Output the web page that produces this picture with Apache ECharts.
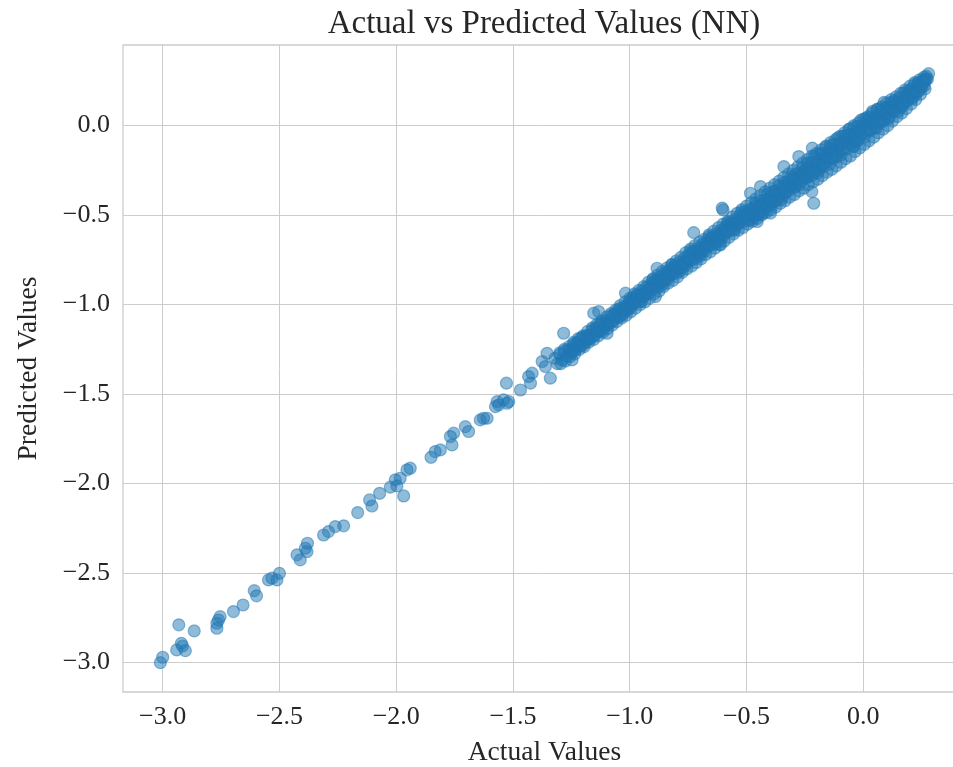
<!DOCTYPE html>
<html>
<head>
<meta charset="utf-8">
<script src="https://cdn.jsdelivr.net/npm/echarts@6/dist/echarts.min.js"></script>
<style>
html,body{margin:0;padding:0;background:#fff;}
#chart{width:953px;height:767px;}
</style>
</head>
<body>
<div id="chart"></div>
<script>
var chartTitle = 'Actual vs Predicted Values (NN)';
var xAxisName = 'Actual Values';
var yAxisName = 'Predicted Values';

// [actual, predicted]
var tailPoints = [
  [-3.01,-3.00],[-3.00,-2.97],[-2.931,-2.789],[-2.865,-2.823],[-2.94,-2.929],[-2.915,-2.907],
  [-2.903,-2.933],[-2.92,-2.892],[-2.768,-2.808],[-2.761,-2.762],[-2.754,-2.743],[-2.768,-2.78],
  [-2.697,-2.715],[-2.656,-2.678],[-2.608,-2.598],[-2.598,-2.627],[-2.547,-2.538],[-2.532,-2.528],
  [-2.511,-2.538],[-2.50,-2.501],[-2.425,-2.398],[-2.411,-2.426],[-2.382,-2.38],[-2.38,-2.333],
  [-2.389,-2.361],[-2.311,-2.287],[-2.261,-2.24],[-2.225,-2.236],[-2.29,-2.268],[-2.165,-2.162],
  [-2.114,-2.091],[-2.104,-2.125],[-2.071,-2.054],[-2.025,-2.02],[-2.004,-1.979],[-1.983,-1.97],
  [-1.968,-2.069],[-1.94,-1.914],[-1.954,-1.923],[-1.997,-2.013],[-1.851,-1.853],[-1.833,-1.821],
  [-1.811,-1.812],[-1.768,-1.737],[-1.761,-1.784],[-1.754,-1.718],[-1.704,-1.682],[-1.69,-1.709],
  [-1.64,-1.644],[-1.611,-1.635],[-1.626,-1.635],[-1.561,-1.56],[-1.525,-1.551],[-1.568,-1.542],
  [-1.54,-1.532],[-1.518,-1.542],[-1.575,-1.57],[-1.528,-1.439],[-1.468,-1.477],[-1.433,-1.402],
  [-1.418,-1.383],[-1.425,-1.439],[-1.375,-1.318],[-1.354,-1.272],[-1.34,-1.411],[-1.361,-1.346],
  [-1.283,-1.16],[-1.247,-1.309]
];

var bandPoints = [
  [-1.32,-1.30],[-1.31,-1.33],[-1.30,-1.28],[-1.29,-1.31],[-1.28,-1.26],[-1.27,-1.29],[-1.26,-1.25],
  [-1.25,-1.27],[-1.24,-1.22],[-1.23,-1.25],[-1.22,-1.21],[-1.21,-1.23],[-1.20,-1.18],[-1.19,-1.21],
  [-1.18,-1.17],[-1.17,-1.19],[-1.16,-1.14],[-1.15,-1.17],[-1.14,-1.13],[-1.13,-1.15],[-1.12,-1.10],
  [-1.11,-1.13],[-1.10,-1.09],[-1.09,-1.11],[-1.08,-1.06],[-1.07,-1.09],[-1.06,-1.05],[-1.05,-1.07],
  [-1.04,-1.02],[-1.03,-1.05],[-1.02,-1.01],[-1.01,-1.03],[-1.00,-0.98],[-0.995,-1.01],
  [-0.99,-0.965],[-0.985,-0.995],[-0.98,-0.975],[-0.97,-0.945],[-0.965,-0.975],[-0.96,-0.955],
  [-0.95,-0.925],[-0.945,-0.955],[-0.94,-0.935],[-0.93,-0.905],[-0.925,-0.935],[-0.92,-0.915],
  [-0.91,-0.885],[-0.905,-0.915],[-0.90,-0.895],[-0.89,-0.865],[-0.885,-0.895],[-0.88,-0.875],
  [-0.87,-0.845],[-0.865,-0.875],[-0.86,-0.855],[-0.85,-0.825],[-0.845,-0.855],[-0.84,-0.835],
  [-0.83,-0.805],[-0.825,-0.835],[-0.82,-0.815],[-0.81,-0.785],[-0.805,-0.815],[-0.80,-0.795],
  [-0.79,-0.765],[-0.785,-0.795],[-0.78,-0.775],[-0.77,-0.745],[-0.765,-0.775],[-0.76,-0.755],
  [-0.75,-0.725],[-0.745,-0.755],[-0.74,-0.735],[-0.73,-0.705],[-0.725,-0.735],[-0.72,-0.715],
  [-0.71,-0.685],[-0.705,-0.715],[-0.70,-0.695],[-0.69,-0.665],[-0.685,-0.695],[-0.68,-0.675],
  [-0.67,-0.645],[-0.665,-0.675],[-0.66,-0.655],[-0.65,-0.625],[-0.645,-0.655],[-0.64,-0.635],
  [-0.63,-0.605],[-0.625,-0.635],[-0.62,-0.615],[-0.61,-0.585],[-0.605,-0.615],[-0.60,-0.595],
  [-0.59,-0.565],[-0.585,-0.595],[-0.58,-0.575],[-0.57,-0.545],[-0.565,-0.575],[-0.56,-0.555],
  [-0.55,-0.525],[-0.545,-0.555],[-0.54,-0.535],[-0.53,-0.505],[-0.525,-0.535],[-0.52,-0.515],
  [-0.51,-0.485],[-0.505,-0.515],[-0.50,-0.495],
  [-0.95,-0.98],[-0.90,-0.86],[-0.86,-0.89],[-0.82,-0.78],[-0.78,-0.81],[-0.74,-0.70],
  [-0.70,-0.73],[-0.66,-0.62],[-0.62,-0.65],[-0.58,-0.54],[-0.55,-0.58],[-0.52,-0.48],
  [-0.49,-0.47],[-0.485,-0.525],[-0.48,-0.49],[-0.475,-0.465],[-0.47,-0.515],[-0.465,-0.485],
  [-0.46,-0.435],[-0.455,-0.485],[-0.45,-0.45],[-0.445,-0.495],[-0.44,-0.42],[-0.435,-0.475],
  [-0.43,-0.44],[-0.425,-0.415],[-0.42,-0.465],[-0.415,-0.435],[-0.41,-0.385],[-0.405,-0.435],
  [-0.40,-0.40],[-0.395,-0.445],[-0.39,-0.37],[-0.385,-0.425],[-0.38,-0.39],[-0.375,-0.365],
  [-0.37,-0.415],[-0.365,-0.385],[-0.36,-0.335],[-0.355,-0.385],[-0.35,-0.35],[-0.345,-0.395],
  [-0.34,-0.32],[-0.335,-0.375],[-0.33,-0.34],[-0.325,-0.315],[-0.32,-0.365],[-0.315,-0.335],
  [-0.31,-0.285],[-0.305,-0.335],[-0.30,-0.30],[-0.295,-0.345],[-0.29,-0.27],[-0.285,-0.325],
  [-0.28,-0.29],[-0.275,-0.265],[-0.27,-0.315],[-0.265,-0.285],[-0.26,-0.235],[-0.255,-0.285],
  [-0.25,-0.25],[-0.245,-0.295],
  [-0.24,-0.21],[-0.235,-0.285],[-0.23,-0.24],[-0.225,-0.205],[-0.22,-0.28],[-0.215,-0.235],
  [-0.21,-0.17],[-0.205,-0.245],[-0.20,-0.20],[-0.195,-0.265],[-0.19,-0.16],[-0.185,-0.235],
  [-0.18,-0.19],[-0.175,-0.155],[-0.17,-0.23],[-0.165,-0.185],[-0.16,-0.12],[-0.155,-0.195],
  [-0.15,-0.15],[-0.145,-0.215],[-0.14,-0.11],[-0.135,-0.185],[-0.13,-0.14],[-0.125,-0.105],
  [-0.12,-0.18],[-0.115,-0.135],[-0.11,-0.07],[-0.105,-0.145],[-0.10,-0.10],[-0.095,-0.165],
  [-0.09,-0.06],[-0.085,-0.135],[-0.08,-0.09],[-0.075,-0.055],[-0.07,-0.13],[-0.065,-0.085],
  [-0.06,-0.02],[-0.055,-0.095],[-0.05,-0.05],[-0.045,-0.115],[-0.04,-0.01],[-0.035,-0.085],
  [-0.03,-0.04],[-0.025,-0.005],[-0.02,-0.08],[-0.015,-0.035],[-0.01,0.03],[-0.005,-0.045],
  [0.00,0.00],[0.005,-0.065],[0.01,0.04],[0.015,-0.035],[0.02,0.01],[0.025,0.045],
  [0.03,-0.03],[0.035,0.015],[0.04,0.08],[0.045,0.005],[0.05,0.05],[0.055,-0.015],
  [0.06,0.09],[0.065,0.015],[0.07,0.06],[0.075,0.095],[0.08,0.02],[0.085,0.065],
  [0.09,0.13],[0.095,0.055],[0.10,0.10],
  [0.105,0.105],[0.11,0.05],[0.115,0.085],[0.12,0.13],[0.125,0.075],[0.13,0.11],
  [0.135,0.14],[0.14,0.095],[0.145,0.13],[0.15,0.115],[0.155,0.155],[0.16,0.10],
  [0.165,0.135],[0.17,0.18],[0.175,0.125],[0.18,0.16],[0.185,0.19],[0.19,0.145],
  [0.195,0.18],[0.20,0.165],[0.205,0.205],[0.21,0.15],[0.215,0.185],[0.22,0.23],
  [0.225,0.175],[0.23,0.21],[0.235,0.24],[0.24,0.195],[0.245,0.23],[0.25,0.215],
  [0.255,0.255],[0.26,0.22],[0.265,0.25],[0.27,0.275],[0.275,0.26],[0.28,0.29]
];

var bandEdgePoints = [
  [-1.30,-1.27],[-1.295,-1.33],[-1.28,-1.25],[-1.275,-1.315],[-1.26,-1.235],[-1.255,-1.29],
  [-1.24,-1.21],[-1.235,-1.275],[-1.22,-1.19],[-1.215,-1.25],[-1.20,-1.175],[-1.195,-1.235],
  [-1.18,-1.15],[-1.175,-1.21],[-1.16,-1.13],[-1.155,-1.195],[-1.14,-1.11],[-1.135,-1.175],
  [-1.12,-1.09],[-1.115,-1.155],[-1.10,-1.07],[-1.095,-1.135],[-1.08,-1.05],[-1.075,-1.115],
  [-1.06,-1.03],[-1.055,-1.095],[-1.04,-1.005],[-1.035,-1.075],[-1.02,-0.985],[-1.015,-1.06],
  [-1.00,-0.965],[-0.995,-1.04],[-0.98,-0.94],[-0.975,-1.02],[-0.96,-0.92],[-0.955,-1.00],
  [-0.94,-0.90],[-0.935,-0.985],[-0.92,-0.875],[-0.915,-0.965],[-0.90,-0.855],[-0.895,-0.94],
  [-0.88,-0.835],[-0.875,-0.925],[-0.86,-0.815],[-0.855,-0.90],[-0.84,-0.795],[-0.835,-0.88],
  [-0.82,-0.775],[-0.815,-0.865],[-0.80,-0.755],[-0.795,-0.845],[-0.78,-0.735],[-0.775,-0.82],
  [-0.76,-0.71],[-0.755,-0.80],[-0.74,-0.69],[-0.735,-0.785],[-0.72,-0.67],[-0.715,-0.765],
  [-0.70,-0.65],[-0.695,-0.745],[-0.68,-0.635],[-0.675,-0.72],[-0.66,-0.61],[-0.655,-0.705],
  [-0.64,-0.59],[-0.635,-0.685],[-0.62,-0.57],[-0.615,-0.665],[-0.60,-0.55],[-0.595,-0.645],
  [-0.58,-0.535],[-0.575,-0.625],[-0.56,-0.51],[-0.555,-0.605],[-0.54,-0.49],[-0.535,-0.585],
  [-0.52,-0.47],[-0.515,-0.57],[-0.50,-0.45],[-0.495,-0.55],[-0.48,-0.43],[-0.475,-0.535],
  [-0.46,-0.41],[-0.455,-0.52],[-0.44,-0.39],[-0.435,-0.50],[-0.42,-0.37],[-0.415,-0.485],
  [-0.40,-0.35],[-0.395,-0.47],[-0.38,-0.33],[-0.375,-0.455],[-0.36,-0.31],[-0.355,-0.435],
  [-0.34,-0.29],[-0.335,-0.42],[-0.32,-0.27],[-0.315,-0.40],[-0.30,-0.25],[-0.295,-0.385],
  [-0.28,-0.23],[-0.275,-0.365],[-0.26,-0.21],[-0.255,-0.35],[-0.24,-0.19],[-0.235,-0.33],
  [-0.22,-0.17],[-0.215,-0.315],[-0.20,-0.155],[-0.195,-0.30],[-0.18,-0.135],[-0.175,-0.28],
  [-0.16,-0.115],[-0.155,-0.26],[-0.14,-0.095],[-0.135,-0.245],[-0.12,-0.08],[-0.115,-0.225],
  [-0.10,-0.06],[-0.095,-0.205],[-0.08,-0.04],[-0.075,-0.185],[-0.06,-0.02],[-0.055,-0.17],
  [-0.04,0.00],[-0.035,-0.145],[-0.02,0.015],[-0.015,-0.125],[0.00,0.035],[0.005,-0.105],
  [0.02,0.05],[0.025,-0.085],[0.04,0.07],[0.045,-0.065],[0.06,0.09],[0.065,-0.04],
  [0.08,0.105],[0.085,-0.02],[0.10,0.125],[0.105,0.00],[0.12,0.145],[0.125,0.025],
  [0.14,0.16],[0.145,0.05],[0.16,0.18],[0.165,0.07],[0.18,0.20],[0.185,0.095],
  [0.20,0.22],[0.205,0.12],[0.22,0.24],[0.225,0.145],[0.24,0.255],[0.245,0.175],
  [0.26,0.27],[0.265,0.205]
];

var bandCorePoints = [
  [-1.25,-1.25],[-1.24,-1.26],[-1.23,-1.22],[-1.22,-1.23],[-1.21,-1.19],[-1.20,-1.225],
  [-1.19,-1.185],[-1.18,-1.195],[-1.17,-1.17],[-1.16,-1.18],[-1.15,-1.14],[-1.14,-1.15],
  [-1.13,-1.11],[-1.12,-1.145],[-1.11,-1.105],[-1.10,-1.115],[-1.09,-1.09],[-1.08,-1.10],
  [-1.07,-1.06],[-1.06,-1.07],[-1.05,-1.03],[-1.04,-1.065],[-1.03,-1.025],[-1.02,-1.035],
  [-1.01,-1.01],[-1.00,-1.02],[-0.99,-0.98],[-0.98,-0.99],[-0.97,-0.95],[-0.96,-0.985],
  [-0.95,-0.945],[-0.94,-0.955],[-0.93,-0.93],[-0.92,-0.94],[-0.91,-0.90],[-0.90,-0.91],
  [-0.89,-0.87],[-0.88,-0.905],[-0.87,-0.865],[-0.86,-0.875],[-0.85,-0.85],[-0.84,-0.86],
  [-0.83,-0.82],[-0.82,-0.83],[-0.81,-0.79],[-0.80,-0.825],[-0.79,-0.785],[-0.78,-0.795],
  [-0.77,-0.77],[-0.76,-0.78],[-0.75,-0.74],[-0.74,-0.75],[-0.73,-0.71],[-0.72,-0.745],
  [-0.71,-0.705],[-0.70,-0.715],[-0.69,-0.69],[-0.68,-0.70],[-0.67,-0.66],[-0.66,-0.67],
  [-0.65,-0.63],[-0.64,-0.665],[-0.63,-0.625],[-0.62,-0.635],[-0.61,-0.61],[-0.60,-0.62],
  [-0.59,-0.58],[-0.58,-0.59],[-0.57,-0.55],[-0.56,-0.585],[-0.55,-0.545],[-0.54,-0.555],
  [-0.53,-0.53],[-0.52,-0.54],[-0.51,-0.50],
  [-0.50,-0.51],[-0.49,-0.53],[-0.48,-0.48],[-0.47,-0.50],[-0.46,-0.45],[-0.45,-0.50],
  [-0.44,-0.46],[-0.43,-0.49],[-0.42,-0.43],[-0.41,-0.45],[-0.40,-0.40],[-0.39,-0.42],
  [-0.38,-0.37],[-0.37,-0.42],[-0.36,-0.38],[-0.35,-0.41],[-0.34,-0.35],[-0.33,-0.37],
  [-0.32,-0.32],[-0.31,-0.34],[-0.30,-0.29],[-0.29,-0.34],[-0.28,-0.30],[-0.27,-0.33],
  [-0.26,-0.27],[-0.25,-0.29],[-0.24,-0.24],[-0.23,-0.26],[-0.22,-0.21],[-0.21,-0.26],
  [-0.20,-0.22],[-0.19,-0.25],[-0.18,-0.19],[-0.17,-0.21],[-0.16,-0.16],[-0.15,-0.18],
  [-0.14,-0.13],[-0.13,-0.18],[-0.12,-0.14],[-0.11,-0.17],[-0.10,-0.11],[-0.09,-0.13],
  [-0.08,-0.08],[-0.07,-0.10],[-0.06,-0.05],[-0.05,-0.10],[-0.04,-0.06],[-0.03,-0.09],
  [-0.02,-0.03],[-0.01,-0.05],[0.00,0.00],[0.01,-0.02],[0.02,0.03],[0.03,-0.02],
  [0.04,0.02],[0.05,-0.01],[0.06,0.05],[0.07,0.03],[0.08,0.08],[0.09,0.03],
  [0.10,0.07],[0.11,0.04],[0.12,0.10],[0.13,0.08],[0.14,0.13],[0.15,0.08],
  [0.16,0.12],[0.17,0.11],[0.18,0.16],[0.19,0.14],[0.20,0.19],[0.21,0.16],
  [0.22,0.20],[0.23,0.19],[0.24,0.23],[0.25,0.22],[0.26,0.25],[0.27,0.26]
];

var offBandPoints = [
  [-1.154,-1.048],[-1.097,-1.16],[-1.133,-1.039],[-1.018,-0.936],[-0.89,-0.955],[-0.883,-0.797],
  [-0.726,-0.598],[-0.611,-0.666],[-0.60,-0.471],[-0.604,-0.461],[-0.454,-0.536],[-0.397,-0.489],
  [-0.483,-0.378],[-0.44,-0.341],[-0.34,-0.229],[-0.276,-0.173],[-0.218,-0.126],[-0.04,-0.117],
  [-0.22,-0.369],[-0.212,-0.434]
];

var xTicks = [-3.0,-2.5,-2.0,-1.5,-1.0,-0.5,0.0];
var yTicks = [-3.0,-2.5,-2.0,-1.5,-1.0,-0.5,0.0];

var allPoints = tailPoints.concat(bandPoints, bandEdgePoints, bandCorePoints, offBandPoints);

function fmt(v, ticks) {
  for (var i = 0; i < ticks.length; i++) {
    if (Math.abs(v - ticks[i]) < 1e-6) {
      var s = Math.abs(ticks[i]).toFixed(1);
      return (ticks[i] < 0 ? '\u2212' : '') + s;
    }
  }
  return '';
}

var FONT = '"Liberation Serif", "DejaVu Serif", serif';
var chart = echarts.init(document.getElementById('chart'), null, {renderer: 'canvas'});
chart.setOption({
  backgroundColor: '#ffffff',
  animation: false,
  title: {
    text: chartTitle,
    left: 544, textAlign: 'center',
    top: 8,
    padding: 0,
    textStyle: {fontFamily: FONT, fontSize: 33, fontWeight: 'normal', color: '#262626'}
  },
  grid: {
    left: 123, top: 45, width: 843, height: 647,
    show: true, borderColor: '#cccccc', borderWidth: 1.3, backgroundColor: '#ffffff',
    containLabel: false,
    outerBoundsMode: 'none'
  },
  xAxis: {
    type: 'value', min: -3.17, max: 0.44, splitNumber: 7,
    name: xAxisName, nameLocation: 'middle', nameGap: 47,
    nameTextStyle: {fontFamily: FONT, fontSize: 27.5, color: '#262626'},
    axisLine: {show: false}, axisTick: {show: false},
    axisLabel: {fontFamily: FONT, fontSize: 26, color: '#262626', margin: 12,
      showMinLabel: false, showMaxLabel: false,
      formatter: function (v) { return fmt(v, xTicks); }},
    splitLine: {show: true, showMinLine: false, showMaxLine: false,
      lineStyle: {color: '#cccccc', width: 1}}
  },
  yAxis: {
    type: 'value', min: -3.164, max: 0.45, splitNumber: 7,
    name: yAxisName, nameLocation: 'middle', nameGap: 80, nameRotate: 90,
    nameTextStyle: {fontFamily: FONT, fontSize: 27.5, color: '#262626'},
    axisLine: {show: false}, axisTick: {show: false},
    axisLabel: {fontFamily: FONT, fontSize: 26, color: '#262626', margin: 13,
      showMinLabel: false, showMaxLabel: false,
      formatter: function (v) { return fmt(v, yTicks); }},
    splitLine: {show: true, showMinLine: false, showMaxLine: false,
      lineStyle: {color: '#cccccc', width: 1}}
  },
  series: [{
    type: 'scatter',
    data: allPoints,
    symbol: 'circle',
    symbolSize: 12,
    large: false,
    itemStyle: {
      color: 'rgba(31,119,180,0.5)',
      borderColor: 'rgba(31,119,180,0.5)',
      borderWidth: 1.2,
      opacity: 1
    },
    emphasis: {disabled: true}
  }]
});
</script>
</body>
</html>
